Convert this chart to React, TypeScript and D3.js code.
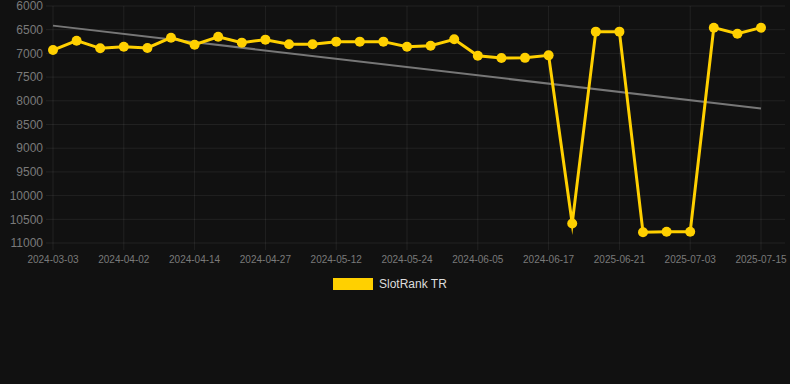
import React from "react";
import * as d3 from "d3";

const dates = [
  "2024-03-03", "2024-03-13", "2024-03-23", "2024-04-02", "2024-04-06", "2024-04-10",
  "2024-04-14", "2024-04-18", "2024-04-23", "2024-04-27", "2024-05-02", "2024-05-07",
  "2024-05-12", "2024-05-16", "2024-05-20", "2024-05-24", "2024-05-28", "2024-06-01",
  "2024-06-05", "2024-06-09", "2024-06-13", "2024-06-17", "2024-06-21", "2025-06-17",
  "2025-06-21", "2025-06-25", "2025-06-29", "2025-07-03", "2025-07-07", "2025-07-11",
  "2025-07-15",
];

const ranks = [
  6930, 6732, 6893, 6858, 6886, 6668, 6816, 6648, 6773, 6710, 6808, 6808,
  6752, 6752, 6752, 6858, 6837, 6703, 7048, 7097, 7094, 7041, 10590, 6541,
  6541, 10775, 10761, 10761, 6457, 6584, 6457,
];

const yTicks = [6000, 6500, 7000, 7500, 8000, 8500, 9000, 9500, 10000, 10500, 11000];
const seriesName = "SlotRank TR";

const W = 790;
const H = 384;
const left = 53;
const right = 761;
const top = 6;
const bottom = 243;

export default function App() {
  const x = d3.scalePoint<string>().domain(dates).range([left, right]);
  const y = d3.scaleLinear().domain([6000, 11000]).range([top, bottom]);

  // linear regression trend
  const n = ranks.length;
  const mx = d3.mean(d3.range(n)) as number;
  const my = d3.mean(ranks) as number;
  let sxy = 0;
  let sxx = 0;
  ranks.forEach((v, i) => {
    sxy += (i - mx) * (v - my);
    sxx += (i - mx) * (i - mx);
  });
  const slope = sxy / sxx;
  const intercept = my - slope * mx;
  const trendStart = intercept;
  const trendEnd = intercept + slope * (n - 1);

  const line = d3
    .line<number>()
    .x((_, i) => x(dates[i]) as number)
    .y((d) => y(d));

  const labelIdx = d3.range(0, n, 3);
  const gridColor = "rgba(255,255,255,0.07)";
  const tickColor = "#7a7a7a";
  const gold = "#FFD000";

  return (
    <svg
      width={W}
      height={H}
      style={{ position: "absolute", left: 0, top: 0, background: "#111111" }}
      fontFamily="Arial, Helvetica, sans-serif"
    >
      <rect x={0} y={0} width={W} height={H} fill="#111111" />
      {yTicks.map((t) => (
        <g key={t}>
          <line x1={46} x2={785} y1={y(t)} y2={y(t)} stroke={gridColor} strokeWidth={1} />
          <text x={43} y={y(t)} dy="0.35em" textAnchor="end" fontSize={12} fill={tickColor}>
            {t}
          </text>
        </g>
      ))}
      {labelIdx.map((i) => (
        <g key={i}>
          <line
            x1={x(dates[i])}
            x2={x(dates[i])}
            y1={top}
            y2={bottom + 7}
            stroke={gridColor}
            strokeWidth={1}
          />
          <text
            x={x(dates[i])}
            y={259}
            dy="0.35em"
            textAnchor="middle"
            fontSize={10}
            fill={tickColor}
          >
            {dates[i]}
          </text>
        </g>
      ))}
      <line
        x1={x(dates[0])}
        x2={x(dates[n - 1])}
        y1={y(trendStart)}
        y2={y(trendEnd)}
        stroke="#777777"
        strokeWidth={2}
      />
      <path
        d={line(ranks) || ""}
        fill="none"
        stroke={gold}
        strokeWidth={3}
        strokeLinejoin="miter"
        strokeMiterlimit={10}
      />
      {ranks.map((v, i) => (
        <circle key={i} cx={x(dates[i])} cy={y(v)} r={5} fill={gold} />
      ))}
      <rect x={333} y={278} width={40} height={12} fill={gold} />
      <text x={379} y={284} dy="0.35em" fontSize={12} fill="#dddddd">
        {seriesName}
      </text>
    </svg>
  );
}
